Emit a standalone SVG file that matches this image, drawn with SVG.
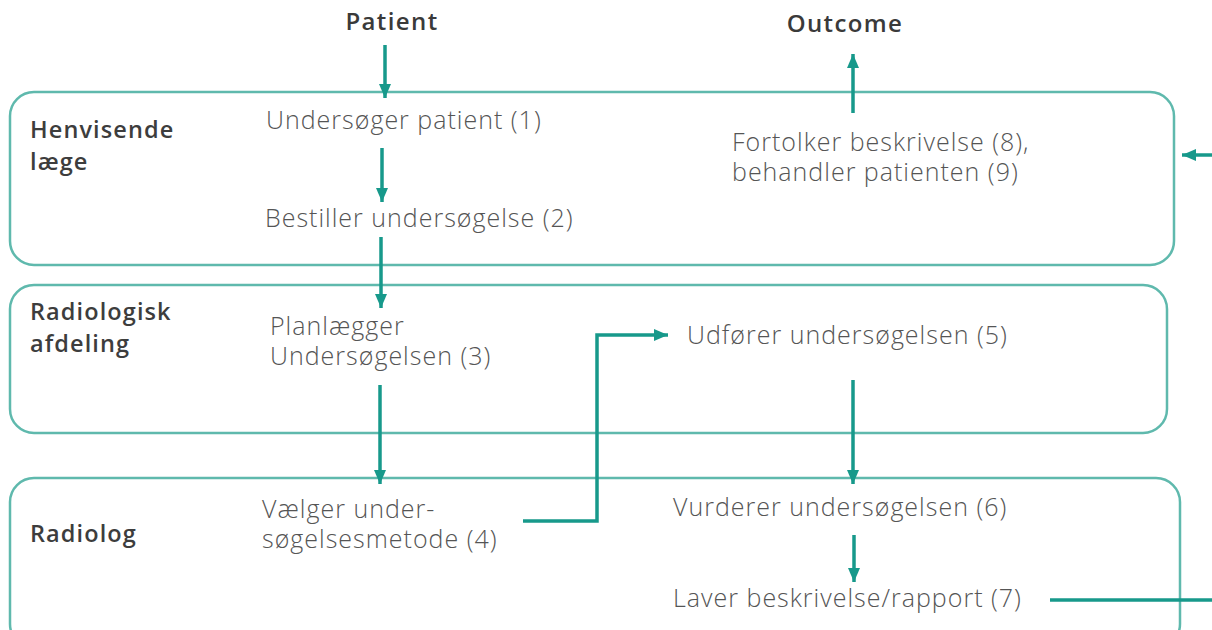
<svg xmlns="http://www.w3.org/2000/svg" width="1212" height="630" viewBox="0 0 1212 630">
  <defs>
    <marker id="head" markerUnits="userSpaceOnUse" markerWidth="16" markerHeight="16" viewBox="0 0 16 16" refX="14" refY="8" orient="auto">
      <path d="M0,2 L14,8 L0,14 Z" fill="#17998b"/>
    </marker>
    <style>
      .lane { fill: none; stroke: #5fb9ad; stroke-width: 2.5; }
      .flow { fill: none; stroke: #17998b; stroke-width: 3.5; marker-end: url(#head); }
      .line { fill: none; stroke: #17998b; stroke-width: 3.5; }
      .head { font-family: "Open Sans", "Liberation Sans", sans-serif; font-size: 24px; font-weight: 600; fill: #3a3a3a; letter-spacing: 1.4px; }
      .role { font-family: "Open Sans", "Liberation Sans", sans-serif; font-size: 23.5px; font-weight: 600; fill: #3d3d3d; letter-spacing: 1.1px; }
      .step { font-family: "Open Sans", "Liberation Sans", sans-serif; font-size: 25px; font-weight: 300; fill: #555; letter-spacing: 1px; }
    </style>
  </defs>

  <!-- swimlanes -->
  <g id="lane-henvisende">
    <rect class="lane" x="10" y="92" width="1164" height="173" rx="24"/>
    <text class="role" x="30" y="138">Henvisende</text>
    <text class="role" x="30" y="170">læge</text>
  </g>
  <g id="lane-radiologisk">
    <rect class="lane" x="10" y="285" width="1157" height="148" rx="24"/>
    <text class="role" x="30" y="320">Radiologisk</text>
    <text class="role" x="30" y="352">afdeling</text>
  </g>
  <g id="lane-radiolog">
    <rect class="lane" x="10" y="478" width="1170" height="170" rx="24"/>
    <text class="role" x="30" y="542">Radiolog</text>
  </g>

  <!-- endpoints -->
  <g id="patient"><text class="head" x="392" y="30" text-anchor="middle">Patient</text></g>
  <g id="outcome"><text class="head" x="845" y="32" text-anchor="middle">Outcome</text></g>

  <!-- steps -->
  <g id="step1"><text class="step" x="266" y="129">Undersøger patient (1)</text></g>
  <g id="step2"><text class="step" x="265" y="227">Bestiller undersøgelse (2)</text></g>
  <g id="step3">
    <text class="step" x="270" y="335">Planlægger</text>
    <text class="step" x="270" y="365">Undersøgelsen (3)</text>
  </g>
  <g id="step4">
    <text class="step" x="262" y="518">Vælger under-</text>
    <text class="step" x="262" y="548">søgelsesmetode (4)</text>
  </g>
  <g id="step5"><text class="step" x="687" y="344">Udfører undersøgelsen (5)</text></g>
  <g id="step6"><text class="step" x="673" y="516">Vurderer undersøgelsen (6)</text></g>
  <g id="step7"><text class="step" x="673" y="607">Laver beskrivelse/rapport (7)</text></g>
  <g id="step89">
    <text class="step" x="732" y="151">Fortolker beskrivelse (8),</text>
    <text class="step" x="732" y="181">behandler patienten (9)</text>
  </g>

  <!-- connectors -->
  <g id="connectors">
    <path class="flow" d="M385,45 V98"/>
    <path class="flow" d="M382,148 V202"/>
    <path class="flow" d="M381,237 V308"/>
    <path class="flow" d="M380,385 V484"/>
    <path class="flow" d="M523,521 H597 V335 H668"/>
    <path class="flow" d="M853,380 V484"/>
    <path class="flow" d="M854,535 V582"/>
    <path class="line" d="M1050,600 H1212"/>
    <path class="flow" d="M1212,155 H1182"/>
    <path class="flow" d="M853,113 V54"/>
  </g>
</svg>
